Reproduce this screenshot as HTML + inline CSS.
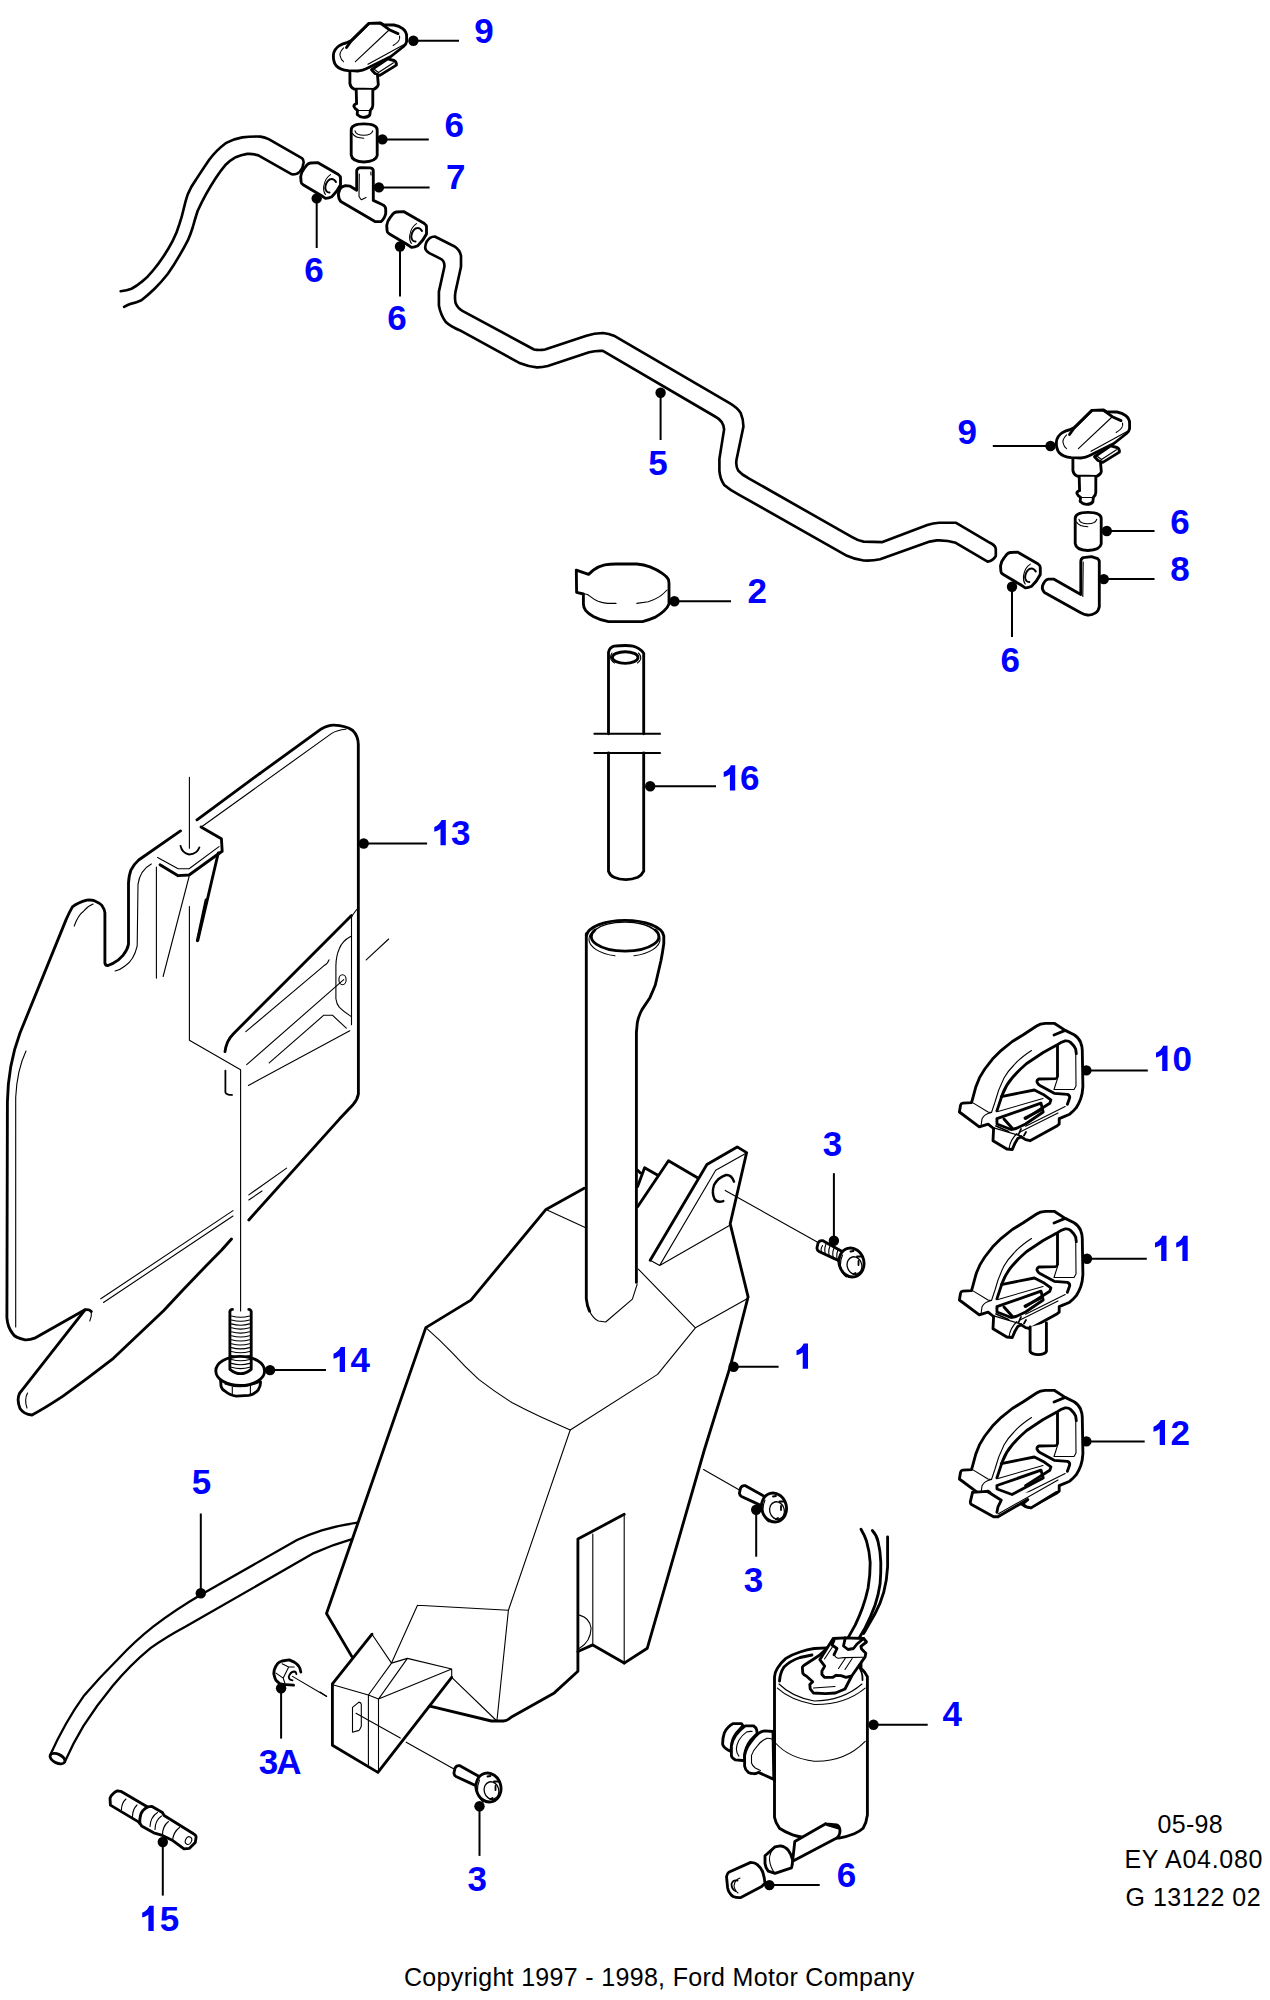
<!DOCTYPE html>
<html><head><meta charset="utf-8"><title>Ford parts diagram</title>
<style>
html,body{margin:0;padding:0;background:#fff;}
body{width:1270px;height:2000px;overflow:hidden;position:relative;}
svg{position:absolute;left:0;top:0;display:block;}
.lab text,.lab path{font-family:"Liberation Sans",sans-serif;font-weight:bold;font-size:35px;fill:#0000ff;}
.ld path{stroke:#000;stroke-width:2;fill:none;}
.dot circle{fill:#000;}
.s{fill:none;stroke:#000;stroke-width:2.85;stroke-linejoin:round;stroke-linecap:round;}
.f{fill:#fff;stroke:#000;stroke-width:2.85;stroke-linejoin:round;stroke-linecap:round;}
.t{fill:none;stroke:#000;stroke-width:1.1;stroke-linejoin:round;stroke-linecap:round;}
.m{fill:none;stroke:#000;stroke-width:1.8;stroke-linejoin:round;stroke-linecap:round;}
.txt{font-family:"Liberation Sans",sans-serif;font-size:25px;fill:#000;}
</style></head>
<body>
<svg width="1270" height="2000" viewBox="0 0 1270 2000">
<g class="lab">
<text x="474.2" y="42.5">9</text>
<text x="444.4" y="137.3">6</text>
<text x="446.0" y="188.5">7</text>
<text x="304.2" y="282.2">6</text>
<text x="387.3" y="330.2">6</text>
<text x="648.3" y="474.6">5</text>
<text x="957.4" y="443.5">9</text>
<text x="1170.3" y="533.6">6</text>
<text x="1170.3" y="580.7">8</text>
<text x="747.4" y="602.9">2</text>
<text x="1000.4" y="671.8">6</text>
<path d="M730.9 765.2L735.2 765.2L735.2 790.4L729.9 790.4L729.9 774.2Q726.9 776.2 723.7 777.0L723.7 772.1Q726.3 771.2 728.3 769.1Q730.0 767.2 730.9 765.2Z"/>
<text x="759.5" y="789.9" text-anchor="end">6</text>
<path d="M441.5 820.0L445.8 820.0L445.8 845.2L440.5 845.2L440.5 829.0Q437.5 831.0 434.3 831.8L434.3 826.9Q436.9 826.0 438.9 823.9Q440.6 822.0 441.5 820.0Z"/>
<text x="470.5" y="844.7" text-anchor="end">3</text>
<path d="M1163.2 1045.8L1167.5 1045.8L1167.5 1071.0L1162.2 1071.0L1162.2 1054.8Q1159.2 1056.8 1156.0 1057.6L1156.0 1052.7Q1158.6 1051.8 1160.6 1049.7Q1162.3 1047.8 1163.2 1045.8Z"/>
<text x="1192.0" y="1070.5" text-anchor="end">0</text>
<text x="822.7" y="1155.9">3</text>
<path d="M1162.2 1235.8L1166.5 1235.8L1166.5 1261.0L1161.2 1261.0L1161.2 1244.8Q1158.2 1246.8 1155.0 1247.6L1155.0 1242.7Q1157.6 1241.8 1159.6 1239.7Q1161.3 1237.8 1162.2 1235.8Z"/>
<path d="M1183.4 1235.8L1187.7 1235.8L1187.7 1261.0L1182.4 1261.0L1182.4 1244.8Q1179.4 1246.8 1176.2 1247.6L1176.2 1242.7Q1178.8 1241.8 1180.8 1239.7Q1182.5 1237.8 1183.4 1235.8Z"/>
<path d="M803.7 1343.5L808.0 1343.5L808.0 1368.7L802.7 1368.7L802.7 1352.5Q799.7 1354.5 796.5 1355.3L796.5 1350.4Q799.1 1349.5 801.1 1347.4Q802.8 1345.5 803.7 1343.5Z"/>
<path d="M340.7 1346.9L345.0 1346.9L345.0 1372.1L339.7 1372.1L339.7 1355.9Q336.7 1357.9 333.5 1358.7L333.5 1353.8Q336.1 1352.9 338.1 1350.8Q339.8 1348.9 340.7 1346.9Z"/>
<text x="369.9" y="1371.6" text-anchor="end">4</text>
<path d="M1160.7 1419.9L1165.0 1419.9L1165.0 1445.1L1159.7 1445.1L1159.7 1428.9Q1156.7 1430.9 1153.5 1431.7L1153.5 1426.8Q1156.1 1425.9 1158.1 1423.8Q1159.8 1421.9 1160.7 1419.9Z"/>
<text x="1189.9" y="1444.6" text-anchor="end">2</text>
<text x="191.8" y="1493.7">5</text>
<text x="743.8" y="1591.5">3</text>
<text x="942.6" y="1726.4">4</text>
<text x="258.7" y="1773.5" style="letter-spacing:-1.8px">3A</text>
<text x="467.6" y="1890.8">3</text>
<text x="836.8" y="1886.8">6</text>
<path d="M149.4 1905.8L153.7 1905.8L153.7 1931.0L148.4 1931.0L148.4 1914.8Q145.4 1916.8 142.2 1917.6L142.2 1912.7Q144.8 1911.8 146.8 1909.7Q148.5 1907.8 149.4 1905.8Z"/>
<text x="179.2" y="1930.5" text-anchor="end">5</text>
</g>
<g class="ld">
<path d="M413.4 40.8L459.0 40.8"/>
<path d="M382.4 139.4L428.8 139.4"/>
<path d="M378.9 187.4L429.6 187.4"/>
<path d="M316.7 198.4L316.7 248.0"/>
<path d="M400.0 246.5L400.0 296.5"/>
<path d="M660.6 392.8L660.6 440.0"/>
<path d="M1050.5 446.0L992.8 446.0"/>
<path d="M1106.8 531.0L1154.5 531.0"/>
<path d="M1103.8 579.1L1154.5 579.1"/>
<path d="M674.4 601.3L731.0 601.3"/>
<path d="M1012.0 586.7L1012.0 636.9"/>
<path d="M650.2 786.2L716.0 786.2"/>
<path d="M363.7 843.5L427.1 843.5"/>
<path d="M1086.4 1070.4L1147.8 1070.4"/>
<path d="M833.9 1240.8L833.9 1173.2"/>
<path d="M1087.0 1258.8L1146.8 1258.8"/>
<path d="M733.6 1366.7L778.6 1366.7"/>
<path d="M270.1 1370.1L326.0 1370.1"/>
<path d="M1086.4 1441.4L1144.7 1441.4"/>
<path d="M200.8 1593.2L200.8 1513.5"/>
<path d="M756.2 1509.8L756.2 1556.7"/>
<path d="M873.5 1724.7L927.7 1724.7"/>
<path d="M281.1 1688.3L281.1 1738.6"/>
<path d="M479.5 1806.3L479.5 1855.9"/>
<path d="M769.4 1885.1L819.7 1885.1"/>
<path d="M162.8 1842.0L162.8 1895.6"/>
</g>
<g class="dot">
<circle cx="413.4" cy="40.8" r="5.2"/>
<circle cx="382.4" cy="139.4" r="5.2"/>
<circle cx="378.9" cy="187.4" r="5.2"/>
<circle cx="316.7" cy="198.4" r="5.2"/>
<circle cx="400.0" cy="246.5" r="5.2"/>
<circle cx="660.6" cy="392.8" r="5.2"/>
<circle cx="1050.5" cy="446.0" r="5.2"/>
<circle cx="1106.8" cy="531.0" r="5.2"/>
<circle cx="1103.8" cy="579.1" r="5.2"/>
<circle cx="674.4" cy="601.3" r="5.2"/>
<circle cx="1012.0" cy="586.7" r="5.2"/>
<circle cx="650.2" cy="786.2" r="5.2"/>
<circle cx="363.7" cy="843.5" r="5.2"/>
<circle cx="1086.4" cy="1070.4" r="5.2"/>
<circle cx="833.9" cy="1240.8" r="5.2"/>
<circle cx="1087.0" cy="1258.8" r="5.2"/>
<circle cx="733.6" cy="1366.7" r="5.2"/>
<circle cx="270.1" cy="1370.1" r="5.2"/>
<circle cx="1086.4" cy="1441.4" r="5.2"/>
<circle cx="200.8" cy="1593.2" r="5.2"/>
<circle cx="756.2" cy="1509.8" r="5.2"/>
<circle cx="873.5" cy="1724.7" r="5.2"/>
<circle cx="281.1" cy="1688.3" r="5.2"/>
<circle cx="479.5" cy="1806.3" r="5.2"/>
<circle cx="769.4" cy="1885.1" r="5.2"/>
<circle cx="162.8" cy="1842.0" r="5.2"/>
</g>

<defs>
<g id="noz">
<path class="f" d="M368.8 23.4L380.6 23L383.5 24.8L394 25C400.5 26 406.6 30 406.6 36L406.6 41.5Q406 45 403.5 46.5L390.9 56.5L368.8 67.5Q362 70.8 357.8 71L348.3 70.6Q340 70 336 65.5Q333 61.5 333.4 55Q334 49 339.7 45.4Q343 43.5 346 43L351.5 40.5Z"/>
<path class="s" d="M346.5 47.5L351.5 40.5L368.8 23.4M380.6 23.4L389.3 29.7L398 33.6"/>
<path class="t" d="M399.5 36Q401 41 393.2 45.4M343.6 47.8Q338.5 53 340.5 57Q341 60 343.6 61.6M355.4 61.6L388.5 30.5M368 64.3L405 43.9"/>
<path class="f" d="M371.5 69.8L387.7 58.8L394 60.5Q396.8 62 396.4 65.1L379.8 75.4L375 73.5Z"/>
<path class="t" d="M374.5 69.5L378.5 72.5L393.5 62.8"/>
<path class="f" d="M349.9 72.2L349.9 83.5Q350.5 87.5 354 89L373.5 89.5Q378 87 378.3 84.5L377.5 75.4"/>
<path class="f" d="M356.2 89.8L356.6 103.7Q353.6 104.5 353.9 106.5Q355 109 357.5 110.3L357.2 114.5Q360 117.3 363.3 117.3Q368 117.3 369.8 115L370.4 110.2Q372.8 108 372.8 105.5L372.8 89.8"/>
<path class="t" d="M357.8 110.5L370 110.5"/>
</g>
<g id="vcyl">
<path class="f" d="M351.2 130Q351.2 124 363.8 123.9Q377.2 124 377.2 130L377.2 155.5Q376 161.5 363.8 162Q352 161.5 351.2 155Z"/>
<path class="t" d="M355 130.8Q356 135.2 363.8 135.2Q371.5 135.2 372.7 130.8M352.5 133.5Q355 138 363.8 138.2"/>
</g>
<g id="dcyl">
<path class="f" d="M310.5 163L317.6 162.6L338.4 174.6Q340.5 176 340.5 178L340.5 185Q337 192 331.8 196.8Q328.5 198.5 325.5 198.4L320.8 195.3L303.5 185Q301 183.5 301.1 181.9L300.7 176.4Q301.5 171.5 304.2 168.5L306.6 165.3Q308.5 163.3 310.5 163Z"/>
<path class="t" d="M330.5 174.6Q325 178 323.7 186.5Q323.2 191.5 325.4 194.5"/>
<path class="m" style="stroke-width:2" d="M336 182Q333.5 177.8 329.5 179.5Q325.5 182.5 325.3 188Q325.8 192.5 329.5 192.5"/>
</g>
</defs>
<use href="#noz"/>
<use href="#noz" transform="translate(723 387)"/>
<use href="#vcyl"/>
<use href="#vcyl" transform="translate(724 388.5)"/>
<use href="#dcyl"/>
<use href="#dcyl" transform="translate(86 49)"/>
<use href="#dcyl" transform="translate(699.8 389.5)"/>
<!-- T piece 7 -->
<path class="f" d="M345.5 185.6L350.2 186.2L356.7 190.3L356.7 170.5Q357.5 167.6 360.9 167.6L370.3 167.9Q373.3 168.5 373.3 171L373.3 200.4L382.1 204.5Q385.7 206 385.7 209L385.7 213.9Q384 219.5 381 221.6L375 221.6L340.8 201.5Q338.3 198.5 338.4 194Q338.8 189 342 186.8Z"/>
<path class="t" d="M359.3 174L359 196.5L361 199.5M361.5 199.8L366 197.5M370.8 172L371 175"/>
<!-- elbow 8 -->
<path class="f" d="M1083.3 557.6L1091.5 556.6L1097.6 558.6Q1099.3 560 1099.3 562L1099.3 606.8Q1098.5 611 1095.6 612.9Q1091.5 615.5 1087.4 615Q1083.5 614.5 1081.2 612.9L1044.4 592.4Q1041.8 590 1042.4 586.3Q1044.5 579.8 1048.5 579.1L1053.6 579.1L1080.8 594.5L1080.8 561.7Q1080.8 558.5 1083.3 557.6Z"/>
<path class="t" d="M1083.2 562L1082.8 596.5"/>

<!-- top-left hose -->
<path class="s" style="stroke-width:2.65" d="M120.7 291.2Q127 290.5 131.5 288.7Q137 286 141.4 282.1Q148 277 153 270.5Q158.5 264 162.9 257.3Q168.5 249 172.8 240.7Q177 232.5 179.4 224.2Q182 216.5 183.6 209.3Q185.5 201 187.7 194.4Q191 186.5 196 179.6Q202.5 169.5 209.2 159.7Q216.5 150 225.7 143.2Q233 139 242.3 137.4Q251 136.3 260.5 136.6Q265 137.3 268.7 139.1L301.8 158.1Q304 160 303.5 163L302.5 167.5Q300 172.5 296.8 173.8Q294 174.6 291.9 174.3L258.8 155.6Q253 153.5 247.2 153.9Q241 155 235.7 157.2Q230 160.5 225.7 164.7Q220.5 171 215.8 177.9Q210.5 186 205.9 194.4Q201.5 202.5 197.6 211Q195 219 192.7 227.5Q190.5 234.5 187.7 240.7Q184 248 179.4 255.6Q174 265 167.9 273.8Q161.5 282 154.6 288.7Q148 295 141.4 300.3Q136.5 302.5 131.5 303.6Q127.5 305 124.1 306.9"/>
<!-- hose 5 top -->
<path class="s" style="stroke-width:2.65" d="M434.8 236.5L454.1 246.2Q460 250 461 255.8L461 266.8L455.5 291.6Q454.5 297.5 455.5 302.7Q457.5 308 462.4 310.9L534 349.5Q539.5 350.5 545 349.5L586.4 335.7Q594 333 602.9 333Q609 333.5 613.9 335.7L729.6 403.2Q737 407.5 740.7 412.9Q743.5 419.5 743.4 426.7L736.5 459.7Q735.5 466 738.3 470.7Q742 475 747.8 477.8L851.7 536.9Q857.5 540.5 863.6 541.6L882.5 542.1L927.3 525Q933 523 939.2 522.7L955.7 522.7L990 542.8Q995.5 545.5 995.8 549L995.8 555.8Q993.5 560.5 987.6 561.7L955.7 542.8Q947 540 936.8 540.4L929.7 541.6L880.1 559.3Q872 561 863.6 560.5Q855 559.5 847 555.8L738.3 494.3Q729.5 489.5 724.2 484.9Q720 479 719.4 470.7L719.4 458.9L724.1 429.4Q723.5 421 715.9 417L602.9 350.9Q596 350.5 589.1 352.3L547.8 366Q542 367.5 536.8 367.4Q528 366.5 520.2 363.3L459.6 330.2Q450.5 326.5 445.8 322Q440.5 314.5 438.9 305.4L438.9 291.6L444.4 266.8Q444.8 260.5 440.3 258.6L429.3 253.1Q425 250.5 425.2 247.6Q425.5 244 426.5 242Q429.5 236.5 434.8 236.5Z"/>
<!-- cap 2 -->
<path class="f" d="M576.3 570.1L588.6 574.4L593.3 570.1Q598 566.5 604.7 564.9Q610 564 616 564L636.8 564Q644 564.8 650 566.8Q657 569.5 662.3 573.4Q667 576.5 668.5 579.6L669 583.3L669 604.1Q667.5 608 664.2 610.7Q660 614.5 654.8 617.4Q649 620 642.5 621.6L608.5 621.6Q600 620 593.3 616.4Q588 613.5 585.8 610.7Q583.5 607.5 583.4 604.1L583.4 594L576.6 592.3Z"/>
<path class="t" d="M584 593.8L587.5 594.5L590.5 596.6Q594 599.5 598.1 601.3Q602.5 603 607.5 603.4L616 603.4M636.8 603.4L648.2 601.8Q654 600 659.5 596.6Q664 593.5 667 590"/>
<!-- tube 16 -->
<path class="s" d="M608.5 652.3Q609.5 647.5 614.1 646.2Q619 645.5 625.5 645.5Q630 645.5 633 646.2Q640 648 643.7 653.3L643.7 733.8M608.5 652.3L608.5 733.8M608.5 753L608.5 871.2Q610 875.5 614 877.2Q619 879.5 625.9 879.7Q632 879.5 637.8 877.2Q642 875 643.7 871.2L643.7 753"/>
<ellipse class="s" cx="625.2" cy="657.5" rx="12.8" ry="5.8"/>
<path class="t" d="M612 653Q609.8 656 611 659.5Q612.5 662 614.5 663M638.5 653Q641.5 656 640.5 659.5Q639.5 661.5 637.5 663"/>
<path class="ld" style="stroke:#000;stroke-width:2" d="M593.6 733.8L660.8 733.8M593.6 753L660.8 753"/>

<!-- shield 13 -->
<path class="s" d="M260 773.4L321.3 728.9Q328 725 333.9 725.1Q346 725.5 352.8 730.5Q358.3 736 358.3 744.6L358.4 1094Q357.5 1099.5 353.2 1104.4L339.4 1119.1L248.8 1220"/>
<path class="s" d="M260 773.4L197 819.8"/>
<path class="s" d="M231.5 1239L221.7 1250Q190 1282 163.8 1310.5Q137 1336 113.4 1358.3Q88 1378 63 1396.1Q45 1408 32 1415Q24 1414.5 20 1408.5Q16.5 1400 19.5 1393.3L85 1309.8Q89 1309 91.3 1311.4"/>
<path class="s" d="M85 1309.8L34.6 1338.2Q30 1340 25.2 1339.8Q15 1338 12.6 1333.5Q7.5 1327 6.9 1317.7L7.4 1102Q8 1065 20 1033L66.3 919.1Q69 913 72.4 906.9Q78 902.5 86.8 900.2Q93 899.5 96.2 901.7Q101.5 904 102.5 906.5Q104.9 910 104.9 912.8L104.9 963.1Q105.5 965.8 108 965.5Q113.5 963.1 113.5 963.1Q119 960 123 955.3Q127.5 950 128.5 944.3L128.5 882.8Q129 875 130.9 870.2Q134 864 138.7 860L180.5 830.9"/>
<path class="s" d="M201 826.9L221.4 838.7L222.2 851.3L217.5 854.5L189.1 875L178.1 875.7L160 864.7"/>
<path class="s" d="M218.3 852.9L197.8 940.3"/>
<path class="s" d="M206 900L197.3 940.7"/>
<path class="m" d="M180.5 845.8Q182 853 189.1 854.5Q197 854 199.4 847.4"/>
<path class="s" d="M351.5 915.6L292.6 974.5L233.7 1033.4Q229.5 1037.5 227.6 1042Q225.5 1047 225 1051.6"/>
<path class="m" d="M225.4 1070.6L225.4 1092.3Q226.5 1095 232 1094.9"/>
<g class="t">
<path d="M345.9 729.2Q337 730 331.7 733.4L201.3 827M157.6 857.6L178.1 868.7L189.1 868.7L219 846.6"/>
<path d="M189.4 777.3L189.4 848.2M189.4 906.5L189.4 1040.3L240.6 1069.8L240.6 1311"/>
<path d="M74.2 926.1Q78 915 83.6 911.2Q88 906 93.1 904.1"/>
<path d="M151.3 863.9Q140 870 138 884.4L137.2 945.8Q134 960 125 966Q120 970 115.1 971"/>
<path d="M156.4 867.1L156.4 978.1M189.1 876.5L163.1 976.5"/>
<path d="M351.5 916.5L351.5 1024.7M356.7 909.5L351.5 916.5"/>
<path d="M329 959.8Q328 963.5 323.8 965.8L245.8 1031.7M343.7 979.7L246.7 1064.6"/>
<path d="M346.3 1028.2L332.4 1015.2L323.8 1015.2L269.2 1062.8M349.8 1030.8L248.4 1085.4"/>
<path d="M350.6 936.4Q342 941 339.4 948.5Q336 956 335.9 965.8L335.9 998.7Q336.5 1004 339.4 1007.4Q344 1012 350.6 1016.1"/>
<ellipse cx="342.5" cy="979.7" rx="3.6" ry="5"/>
<path d="M366.2 959.8L388.7 939"/>
<path d="M26 1051Q17 1070 15.7 1097.2L15.7 1327M100.8 1298.8L233 1210.6M103.5 1302.5L233 1216M248.8 1194.9L286.6 1168.1M248.8 1200L262 1191"/>
<path d="M27 1408Q24 1400 27.5 1393"/>
<path d="M89.8 1320.9Q92 1316 91.3 1311.4"/>
</g>

<!-- bolt 14 -->
<path class="f" d="M220.5 1378L221 1386Q222 1390 225.2 1391.3Q230 1395.5 236.2 1396.1L248.8 1395.3Q255 1394 258.3 1389.8Q260.6 1386 260.6 1381.9Z"/>
<path class="t" d="M232.3 1385.8L232.3 1394.5M250.4 1385.8L250.4 1394.5M225 1384Q240 1390 258 1383"/>
<ellipse class="f" cx="240.2" cy="1370.9" rx="24.4" ry="14.6"/>
<path class="f" d="M229.9 1369.3L229.9 1311.5Q230.5 1309.4 232.5 1309.4M251.2 1369.3L251.2 1311.5Q250.5 1309.4 248.8 1309.4M229.9 1369.3Q240.5 1378 251.2 1369.3"/>
<path class="t" d="M231.5 1316.0Q240.5 1318.6 249.6 1316.0M231.5 1320.0Q240.5 1322.5 249.6 1320.0M231.5 1323.9Q240.5 1326.5 249.6 1323.9M231.5 1327.8Q240.5 1330.4 249.6 1327.8M231.5 1331.8Q240.5 1334.4 249.6 1331.8M231.5 1335.8Q240.5 1338.3 249.6 1335.8M231.5 1339.7Q240.5 1342.3 249.6 1339.7M231.5 1343.7Q240.5 1346.2 249.6 1343.7M231.5 1347.6Q240.5 1350.2 249.6 1347.6M231.5 1351.5Q240.5 1354.1 249.6 1351.5M231.5 1355.5Q240.5 1358.1 249.6 1355.5M231.5 1359.5Q240.5 1362.0 249.6 1359.5M231.5 1363.4Q240.5 1366.0 249.6 1363.4M231.5 1367.3Q240.5 1369.9 249.6 1367.3"/>

<!-- tank 1 -->
<g class="s">
<path d="M586.3 936A38.8 16.5 0 0 1 663.8 936L663.8 943.5Q662.5 953 661 960.5L655.3 985Q652.5 992 649.6 998.3L642 1009.6Q638.5 1016 637.3 1022.8L636.4 1032.3L636.4 1282.4"/>
<path d="M586.3 934L586.3 1298.7Q587 1306 589.5 1311"/>
<path d="M595 930A33.8 14.5 0 1 0 655.2 930"/>
<path d="M584.2 1188.2L546 1209.4L470.9 1300.1L425.8 1327.6L326.5 1613.5L351.9 1656.6"/>
<path d="M637.6 1206.8L668.5 1160.8L697.5 1177.8M637.6 1186.6L644.6 1167.7L657.8 1175.3M637.6 1170.2L640.2 1172.8"/>
<path d="M650.2 1260.3L706.9 1164.6L737.2 1146.9L746.6 1152.6L730.2 1223.8L748.1 1296.9L730.5 1365.6L704.3 1450L647.3 1648.2L624.2 1663.1"/>
<path d="M624.2 1514.3L577.9 1539.1L577.9 1671.3L554.3 1692.9L511.5 1717Q507 1721 503.5 1721L491.4 1721L429.8 1706.2"/>
<path d="M577.9 1651.5L592.8 1644.9L624.2 1663.1"/>
<path d="M332.4 1683.8L372 1634.2M332.4 1683.8L332.4 1745.2L377.9 1772.4L451.7 1677.3"/>
</g>
<path class="s" style="stroke-width:2.4" d="M734 1181.6Q731.5 1174.6 726 1175Q718 1177.5 714 1185Q711.5 1193 714.5 1199Q717 1203 723.3 1201.1"/>
<g class="t">
<path d="M595 930A33.8 14.5 0 0 1 655.2 930M615 922.8A36.3 17.2 0 0 0 615 955.8M634 955.8A36.3 17.2 0 0 0 634 922.8"/>
<path d="M589.5 1311Q593 1318.5 598.4 1321L605.7 1322L632.4 1299.2L637.2 1284.2"/>
<path d="M546 1209.4L585.2 1227.6"/>
<path d="M425.8 1327.6Q440 1340 452.3 1352.9Q465 1367 478.7 1379.4Q495 1392 511.8 1402.5Q526 1410 540.5 1416.8L570.2 1430L657.6 1374.4L695.4 1327.8L747.1 1298.8M695.4 1327.8L638.3 1269.1"/>
<path d="M570.2 1430L508.4 1610.2L496.9 1721M417.5 1605.2L508.4 1610.2M417.5 1605.2L391.5 1663.1"/>
<path d="M650.2 1260.3L659.7 1265.4L715.7 1170.2L744.7 1153.9M659.7 1265.4L729 1225.7"/>
<path d="M725.2 1190.4L819 1243M592.8 1534.1L592.8 1644.9M624.2 1514.3L624.2 1663.1"/>
<path d="M579.5 1615.1Q590 1618 591.1 1628.3Q590.5 1642 579.5 1648.2"/>
<path d="M372 1634.2L391.5 1663.1L407.4 1658.4L451.7 1669L451.7 1677.3M333.6 1685L368.4 1695L378.5 1699.1L451.7 1669M368.4 1695L391.5 1663.1M378.5 1699.1L407.4 1658.4M368.4 1695L368.4 1764.7M378.5 1699.1L378.5 1771.2"/>
<path d="M352.5 1707.4L359 1702.1Q361.3 1702.5 361.3 1704.5L361.3 1726.3Q360 1729.5 359 1730.4L352.5 1732.2Z"/>
<path d="M356 1713.3L400.3 1738.1M406.2 1742.2L453.5 1768.8M320 1692L326.5 1696.2"/>
<path d="M451.7 1677.3L496.9 1721"/>
<path d="M703.5 1469.6L739.4 1490"/>
</g>

<defs>
<g id="bolt3">
<path class="f" d="M765.5 1497L745.4 1485.7Q742 1485 740.5 1488.2L739.4 1493.2Q739.6 1495.5 741.5 1496.5L754.8 1502.6L761 1505.5"/>
<ellipse class="f" cx="774" cy="1507.5" rx="12.4" ry="14.6" transform="rotate(-15 774 1507.5)"/>
<path class="t" d="M765 1500Q762.5 1506 763 1512Q764 1519 769 1522"/>
<ellipse class="t" cx="777" cy="1510.5" rx="7.3" ry="8.8" transform="rotate(-15 777 1510.5)" style="stroke-width:1.3"/>
<path class="m" d="M773 1496.5L776 1496M779.5 1501.5L784 1501.5M781 1506L781 1510M776 1519L778 1518"/>
</g>
</defs>
<use href="#bolt3"/>
<use href="#bolt3" transform="translate(-285.5 280)"/>
<use href="#bolt3" transform="translate(77.5 -245)"/>
<path class="t" d="M822.5 1245.5Q820 1250 822 1253M826 1244Q823.5 1250 826 1255.5M830 1246Q827.5 1252 830 1257.5M834 1248Q831.5 1254 834 1259.5M838 1250Q835.5 1256 838 1261.5"/>
<!-- nut 3A -->
<path class="s" d="M300.8 1672Q300.5 1668.5 298.6 1666Q296.5 1663.5 294.2 1662.1L289.2 1659.9L282.1 1661Q279 1662 277.6 1663.7Q275 1667 274.3 1669.8L273.8 1673.7Q274.5 1677.5 276 1680.3Q278 1682.5 279.8 1683.6Q282.5 1684.5 285.9 1684.7L293.6 1685.2"/>
<path class="t" d="M282.1 1663.7L288.7 1667L294.2 1667M288.7 1667L283.2 1678.1L284.8 1683M276 1673.1L283.2 1678.1"/>
<path class="m" d="M296.4 1674.2Q296 1671.5 294.2 1671.5Q290 1672 288.7 1677Q289 1680 292.5 1680.3"/>
<path class="t" d="M292.5 1676.4L326.7 1696.5"/>

<defs>
<g id="clipU">
<path class="f" d="M959.4 1112L960.5 1105.4Q961 1103.5 962.7 1103.2L971.5 1102.6L972.6 1098.8L975.9 1086.7Q979 1077 984.8 1069L992.5 1059.1L1001.3 1050.3L1012.3 1041.5L1023.3 1034.8L1036.6 1026Q1040 1023.5 1045.4 1023.3L1054.2 1023.3L1065.2 1030.4L1074.1 1034.8Q1079 1038 1080.7 1042.6Q1082.5 1047 1082.3 1051.4L1082.9 1086.7Q1082.5 1094 1080.7 1098.8Q1079 1103.5 1076.3 1107.6Q1073 1111.5 1069.7 1114.2L1059.2 1118.6L1059.2 1124.1L1056.4 1126.3L1030 1140.7L1025.6 1139.6L1021.1 1136.8L993.6 1128.5L988.1 1124.1L979.3 1126.9Z"/>
<path class="s" d="M996.9 1110.9L1002.4 1094.4Q1006 1085 1012.3 1077.8Q1019 1070 1026.7 1063.5L1043.2 1052.5L1056.4 1045.3Q1061 1042 1065.2 1040.9Q1068.5 1040.5 1070.8 1042.6Q1074 1045.5 1075.7 1049.2L1076.3 1053.6"/>
<path class="s" d="M1057.5 1046L1057.5 1076.7Q1057 1078.5 1055.5 1078.6L1038.8 1079Q1036.5 1080.5 1037.1 1082.2Q1038 1084.5 1039.9 1085.6L1054.2 1093.3L1067.4 1094.4Q1070 1095.5 1069.7 1097.7L1067.4 1104.3"/>
<path class="s" d="M1001.3 1096.6L1034.4 1090L1043.2 1094.4L1050.9 1099.9L1049.8 1103.2L1025.6 1118.6"/>
<path class="s" d="M1065.2 1030.4L1054 1035"/>
<g class="t">
<path d="M1075.7 1049.2L1076 1086L1074 1089.5L1054 1089.5L1057.5 1078.6"/>
<path d="M1065.2 1106.5L1025.6 1126.3M998 1111.5L1043 1098.5"/>
<path d="M1031.5 1050.5Q1020 1058 1014 1065Q1008 1071 1004 1078Q998 1090 995 1102L991.5 1112.5"/>
<path d="M972.6 1102.6L988 1112L991.5 1112.5Q984 1114 982 1119L981 1126"/>
</g>
</g>
<g id="clipL">
<path class="f" d="M993.6 1128.5L993 1140.7L1006.8 1149L1012.3 1149.5L1015.1 1142.9L1017.8 1138.5L1021.1 1136.8"/>
<path class="s" d="M996.9 1118.6L1041 1103.2L1043.2 1112L1025.6 1124L1016 1128.5L1011 1129.5L997 1124Z"/>
<path class="s" d="M1004 1119L1012 1128M1025 1118L1041 1110"/>
<path class="m" d="M996 1126L1008.5 1131.5M1021 1129L1018.5 1134.5M1026 1132L1024 1135.5"/>
<path class="t" d="M1009 1149Q1010 1140 1017 1133.5M1020 1132L1058 1113"/>
</g>
</defs>
<use href="#clipU"/><use href="#clipL"/>
<use href="#clipU" transform="translate(0 188)"/><use href="#clipL" transform="translate(0 188)"/>
<path class="f" d="M1030.1 1326.9L1030.1 1351.5Q1032 1354.6 1038.3 1354.6Q1044.5 1354.6 1046.4 1351.5L1046.4 1322.8"/>
<use href="#clipU" transform="translate(0 367)"/>
<path class="f" d="M972.6 1492.4L970.4 1501.3Q970 1503.5 971.5 1504.6L993.6 1516.7L998 1516.7L1027.8 1499.6L1023.3 1503.5Q1024 1506 1026.7 1506.8L1031.1 1507.9L1056.4 1492.4"/>
<path class="s" d="M972.6 1492.4L987 1491.3L1001.3 1500.2L998 1506.8L996.9 1512.3"/>
<path class="s" d="M996.9 1485.5L1041 1470.2L1043.2 1478L1012 1494.5L997 1489Z"/>
<path class="t" d="M998 1514L1058 1480"/>

<!-- pump 4 -->
<g class="s">
<path d="M872.3 1530.6Q876.5 1535 878 1541.3Q880.5 1551 880.8 1562.5Q881 1573 880.1 1583.8Q878.5 1595 875.1 1605Q871 1616.5 865.2 1627.7Q860 1636.5 855.3 1644.7"/>
<path d="M861 1529.2Q864.5 1535 866.6 1541.3Q869.5 1551 870.2 1562.5Q870.3 1575 868.1 1588Q866 1598 862.4 1607.9Q859 1617 855.3 1624.9L848.2 1637.6L844 1644.7"/>
<path d="M887.6 1537L887.6 1566.8Q887 1580 883.7 1592.3Q880.5 1603.5 875.1 1613.5L863.8 1633.4"/>
</g>
<path class="f" d="M774.5 1676.8Q775 1672 777.4 1668.3Q781 1662.5 785.9 1658.4Q792.5 1654.3 800 1652Q807 1649.5 814.2 1648.5L827 1647.8Q842 1648 851 1652Q858 1657 861 1661.5L861 1668.3Q865.5 1672 867.4 1676.8L867.4 1815Q866.5 1822.5 863.1 1828.2Q859.5 1831.5 854.3 1833.7Q846 1837 838.9 1838.1L801.4 1837Q796 1836 792.6 1834.8Q785 1832 779.4 1828.2Q775.5 1823 774.5 1817.2Z"/>
<g class="t">
<path d="M777.4 1688.2Q790 1700 814.2 1704.5Q845 1705 865.2 1688.2M779 1684Q792 1697 814.2 1701Q842 1701 862 1684"/>
<path d="M776 1743.5Q789 1758 814.2 1761.2Q845 1762 865.2 1741.3"/>
</g>
<path class="s" d="M779.5 1681.1Q780 1673 784 1667Q790 1661 800 1657.5L812 1655"/>
<path class="m" d="M858 1666Q863 1672 862.5 1680"/>
<!-- connector on top -->
<path class="f" d="M827.6 1647.7L819.1 1655.5L804.9 1664.7Q802 1666.5 802.4 1668L802.8 1673.2Q804 1675 806.3 1676L812.7 1681.7L809.8 1684.5L810.2 1688.8L813.4 1693L825.4 1693.7L835.4 1693L845 1689L851.7 1676Z"/>
<path class="f" d="M833.2 1638.5L845.3 1637.8L863.7 1638.5L866.5 1642L860.9 1646.3L861.6 1649.1L865.8 1653.3L865.1 1656.9L851.7 1676L846 1677.4L841 1675.7L836.1 1675.3L832.5 1677.4L824.7 1677.4L821.9 1674.6L821.9 1671.1L824.7 1666.1L819.8 1659.7L828.3 1646.3Z"/>
<path class="t" d="M834 1654.8Q836 1658 838.2 1658.3L843.9 1657.6L863 1657.2M845.5 1658L838.5 1668.5M852.5 1658L845 1669.5M833 1646L824.5 1659M813.5 1688L835 1686.5"/>
<path class="s" d="M834 1640.5L832 1645L837 1648.5L834 1654.8M845.3 1637.8L843.5 1646L848 1649.5L853.5 1648.5L857 1644L863.7 1638.5"/>
<!-- side outlet -->
<path class="f" d="M733.3 1723.6L741.5 1723.6L743 1725.8L736 1733.5Q732 1739 731.4 1746L731 1751.5L728 1750Q723 1747 722.6 1744Q722.5 1738 724.4 1732.8Q727.5 1726.5 733.3 1723.6Z"/>
<path class="f" d="M745.2 1725.8L753.4 1725.8Q756 1727.5 756.6 1729.6L757.2 1733.4L751 1740Q745.5 1747 744.6 1755.4L744.6 1760.5L742.7 1760.5L735.2 1759.8Q731.4 1757.5 731.4 1755.4L731.4 1746Q732.5 1740 735.8 1735.3Q740 1729.5 745.2 1725.8Z"/>
<path class="f" d="M758.5 1733.4Q761 1731.5 764.8 1730.9L773 1731.5L773.8 1779.4L758.5 1772.4Q756.5 1773.7 754.1 1773.7Q750.5 1773.5 748.4 1772.4Q745 1769.5 744.6 1766.1L744.6 1755.4Q746 1748 750.3 1742.8Q754 1737 758.5 1733.4Z"/>
<path class="t" d="M752.2 1731.5Q749.5 1731 746.5 1732.1Q742 1735 738.9 1740.3Q736.5 1745 736.4 1749.1Q736.6 1753.5 738.9 1756.1M771.7 1739.1Q769 1738 766.7 1738.4Q761.5 1740.5 757.8 1745.4Q753 1750.5 751.5 1755.4L751.5 1763Q752.5 1766 755.3 1768L760.4 1770.6"/>
<path class="s" d="M774.5 1731L774.5 1781"/>
<!-- bottom outlet pipe -->
<path class="f" d="M838.9 1828.2L827.9 1824.9Q826 1824 825.7 1823.8L794.8 1841.4L792.6 1861.3L836.7 1838.1Q840 1835.5 840 1830.4Q839.5 1826 836.7 1824.9L825.7 1823.8"/>
<!-- connector 6 near pump -->
<path class="f" d="M765 1855.7L775 1846.9L780.5 1845.8Q785.5 1846.5 788.2 1850.2Q791.5 1854.5 792.6 1860.1Q792.5 1865 791.5 1867.9L775 1873.4L768.3 1871.2Q765.5 1868 765 1863.5Z"/>
<path class="t" d="M775 1846.9Q769 1853 769.5 1860Q770.5 1868 775 1873.4"/>
<!-- connector 6 bottom -->
<path class="f" d="M726.5 1876.7Q727 1873.5 728.7 1872.3L750.7 1862.4Q755 1862.5 757.3 1864.6Q761.5 1868 762.8 1872.3Q764.5 1877.5 765 1883.3L761.7 1886.6L740.8 1897.6Q737 1898 733.1 1896.5Q728.5 1893 727.6 1887.7Z"/>
<path class="m" d="M737.5 1880.5Q733 1879.5 731.5 1884Q731.5 1889 735.5 1891"/>
<path class="t" d="M740 1878Q734.5 1880 734 1886Q735 1891 738 1893"/>

<!-- lower hose 5 -->
<path class="s" style="stroke-width:2.3" d="M357.5 1522.7Q340 1525 321.8 1530.3Q310 1534 297 1540L201.3 1594.6Q175 1610 153.2 1626.7Q135 1641 118.4 1658.8Q100 1677 83.5 1696.3Q65 1722 50.1 1755.2"/>
<path class="s" style="stroke-width:2.3" d="M352 1539.2Q332 1545 313.8 1553.1L185.3 1626.7Q166 1637 150.5 1648.1Q130 1665 113 1685.6Q97 1705 83.5 1725.8Q73 1743 64.8 1761.9"/>
<ellipse class="s" cx="57.5" cy="1758.6" rx="8" ry="4.4" transform="rotate(25 57.5 1758.6)"/>
<!-- part 15 -->
<path class="f" d="M110.4 1805.1L110 1798.2Q111 1795.5 113 1793.9Q115 1791.5 117.3 1790.8L120.8 1791.3L147.6 1806.9L152 1806.4L162.4 1812.5L164.1 1815.5L193.5 1833.7Q196 1835 196.1 1837.2L195.3 1842.4L189.2 1848.4L184 1848.9L172.8 1840.6L162.4 1835.4L153.7 1832.8L141.6 1825.9L139.8 1823.3L138.1 1821.6Z"/>
<path class="s" d="M147.6 1806.9Q142 1810 140.7 1814.6Q139.5 1819 139.8 1823.3"/>
<g class="t">
<path d="M126 1799Q121.5 1803 121.5 1809.5M137 1805Q132.5 1809.5 132.5 1816.5M157.5 1812.5Q150.5 1817 150 1826.5M161.5 1816Q155 1820.5 155 1829.5M168.5 1821.5Q162.5 1826 162.5 1835M179.5 1827.5Q173.5 1832 172.5 1840"/>
<ellipse cx="188.5" cy="1840.6" rx="3" ry="4" transform="rotate(25 188.5 1840.6)"/>
</g>

<text class="txt" x="1157.5" y="1833" style="letter-spacing:0.3px">05-98</text>
<text class="txt" x="1124.5" y="1868" style="letter-spacing:0.7px">EY A04.080</text>
<text class="txt" x="1125.5" y="1906" style="letter-spacing:0.5px">G 13122 02</text>
<text class="txt" x="404" y="1986" style="letter-spacing:0.32px">Copyright 1997 - 1998, Ford Motor Company</text>
</svg>
</body></html>
